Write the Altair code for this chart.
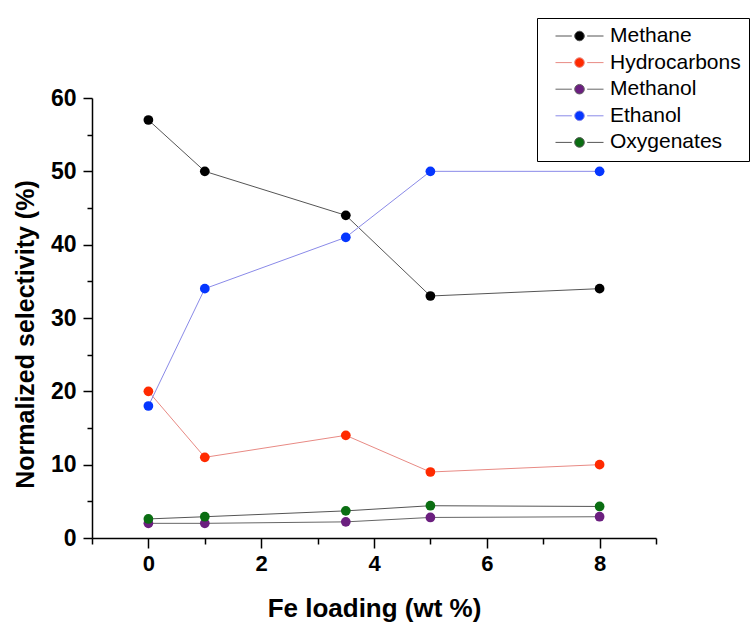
import altair as alt
import pandas as pd

fe_loading = [0, 1, 3.5, 5, 8]
series_names = ["Methane", "Hydrocarbons", "Methanol", "Ethanol", "Oxygenates"]
methane = [57, 50, 44, 33, 34]
hydrocarbons = [20, 11, 14, 9, 10]
methanol = [2.0, 2.0, 2.2, 2.8, 2.9]
ethanol = [18, 34, 41, 50, 50]
oxygenates = [2.6, 2.9, 3.7, 4.4, 4.3]

point_colors = ["#000000", "#ff2a00", "#6b1f7f", "#0536ff", "#0a6e12"]
line_colors = ["#555555", "#e88a84", "#666666", "#8a8ae8", "#555555"]

values = [methane, hydrocarbons, methanol, ethanol, oxygenates]
rows = []
for name, vals in zip(series_names, values):
    for x, v in zip(fe_loading, vals):
        rows.append({"fe": x, "sel": v, "series": name})
df = pd.DataFrame(rows)

sym_path = ("M-1,0H-0.32 M0.32,0H1 "
            "M-0.2,0A0.2,0.2 0 1,0 0.2,0A0.2,0.2 0 1,0 -0.2,0Z")

legend = alt.Legend(
    title=None,
    orient="none",
    legendX=445,
    legendY=-80,
    symbolType=sym_path,
    symbolSize=2304,
    symbolStrokeWidth=1,
    clipHeight=20,
    rowPadding=5.6,
    padding=8,
    symbolOffset=10,
    labelOffset=6,
    labelFont="Liberation Sans",
    labelFontSize=21,
    labelColor="black",
    strokeColor="black",
    fillColor="white",
)

x_enc = alt.X(
    "fe:Q",
    scale=alt.Scale(domain=[-1, 9], nice=False, zero=False),
    axis=alt.Axis(
        title="Fe loading (wt %)",
        values=[-1, 0, 1, 2, 3, 4, 5, 6, 7, 8, 9],
        labelExpr="datum.value % 2 == 0 ? datum.label : ''",
        tickSize={"condition": {"test": "datum.value % 2 != 0", "value": 6}, "value": 10},
        labelFontSize=22,
        labelPadding=5,
        titleFontSize=26,
        titleBaseline="alphabetic",
        titleY=78,
    ),
)
y_enc = alt.Y(
    "sel:Q",
    scale=alt.Scale(domain=[0, 60], nice=False),
    axis=alt.Axis(
        title="Normalized selectivity (%)",
        values=list(range(0, 61, 5)),
        labelExpr="datum.value % 10 == 0 ? datum.label : ''",
        tickSize={"condition": {"test": "datum.value % 10 != 0", "value": 5}, "value": 9},
        labelFontSize=23,
        labelPadding=7,
        titleFontSize=25,
        titleBaseline="alphabetic",
        titleX=-59,
        titleY=236,
    ),
)

lines = alt.Chart(df).mark_line(strokeWidth=1).encode(
    x=x_enc,
    y=y_enc,
    stroke=alt.Stroke("series:N", scale=alt.Scale(domain=series_names, range=line_colors), legend=legend),
    detail="series:N",
)
points = alt.Chart(df).mark_circle(size=95, opacity=1).encode(
    x=x_enc,
    y=y_enc,
    fill=alt.Fill("series:N", scale=alt.Scale(domain=series_names, range=point_colors), legend=legend),
)

chart = alt.layer(lines, points).properties(
    width=564,
    height=440,
    padding={"left": 92, "top": 98, "right": 95, "bottom": 84},
    autosize=alt.AutoSizeParams(type="none"),
    background="white",
).configure_view(stroke=None).configure_axis(
    domainColor="black",
    domainWidth=1.5,
    tickColor="black",
    tickWidth=1.5,
    grid=False,
    labelFont="Liberation Sans",
    labelFontWeight="bold",
    labelColor="black",
    titleFont="Liberation Sans",
    titleFontWeight="bold",
    titleColor="black",
)

chart.save("out.html", embed_options={"renderer": "svg", "actions": False})
